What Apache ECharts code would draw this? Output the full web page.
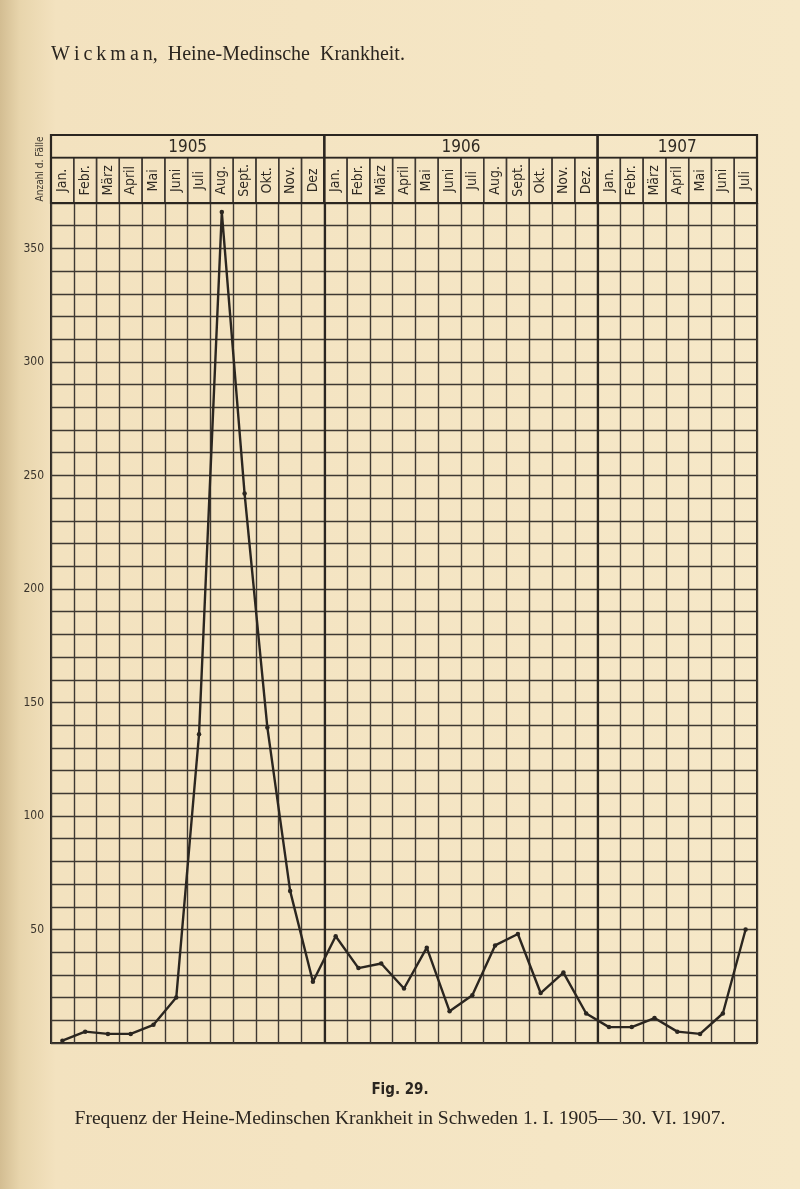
<!DOCTYPE html>
<html>
<head>
<meta charset="utf-8">
<script src="https://cdn.jsdelivr.net/npm/echarts@6/dist/echarts.min.js"></script>
<style>
html,body{margin:0;padding:0;background:#f4e4c2;}
#c{width:800px;height:1189px;}
</style>
</head>
<body>
<div id="c"></div>
<script>
// ---- data ----
var yearLabels = ['1905', '1906', '1907'];
var monthsPerYear = [12, 12, 7];
var monthLabels = [
  'Jan.', 'Febr.', 'März', 'April', 'Mai', 'Juni', 'Juli', 'Aug.', 'Sept.', 'Okt.', 'Nov.', 'Dez',
  'Jan.', 'Febr.', 'März', 'April', 'Mai', 'Juni', 'Juli', 'Aug.', 'Sept.', 'Okt.', 'Nov.', 'Dez.',
  'Jan.', 'Febr.', 'März', 'April', 'Mai', 'Juni', 'Juli'
];
var cases = [
  1, 5, 4, 4, 8, 20, 136, 366, 242, 139, 67, 27,
  47, 33, 35, 24, 42, 14, 21, 43, 48, 22, 31, 13,
  7, 7, 11, 5, 4, 13, 50
];
var yTickLabels = [50, 100, 150, 200, 250, 300, 350];
var yMax = 370;

// ---- derived ----
var nMonths = monthLabels.length;
var yearSpans = [];
var acc = 0;
for (var k = 0; k < yearLabels.length; k++) {
  yearSpans.push([acc, acc + monthsPerYear[k], yearLabels[k]]);
  acc += monthsPerYear[k];
}
var lineData = cases.map(function (v, i) { return [i + 0.5, v]; });
var monthData = monthLabels.map(function (m, i) { return [i, m]; });
var yearBoundaries = yearSpans.slice(1).map(function (s) { return { xAxis: s[0] }; });

var ink = '#2b2620';
var gridInk = '#3f3932';
var condensed = '"DejaVu Sans Condensed", "Liberation Sans Narrow", "DejaVu Sans", sans-serif';
var serif = '"Liberation Serif", "DejaVu Serif", serif';
var ts = '\u2009';

var chart = echarts.init(document.getElementById('c'), null, { renderer: 'canvas' });

var option = {
  animation: false,
  backgroundColor: new echarts.graphic.LinearGradient(0, 0, 1, 0, [
    { offset: 0, color: '#d3bd92' },
    { offset: 0.025, color: '#e8d5ac' },
    { offset: 0.07, color: '#f3e2bf' },
    { offset: 1, color: '#f6e8c8' }
  ]),
  title: [
    {
      text: ['W', 'i', 'c', 'k', 'm', 'a', 'n,'].join(ts) + '  Heine-Medinsche  Krankheit.',
      left: 46, top: 40,
      textStyle: { fontFamily: serif, fontSize: 20, fontWeight: 'normal', color: ink }
    },
    {
      text: 'Fig. 29.',
      left: 'center', top: 1078,
      textStyle: { fontFamily: condensed, fontSize: 15, fontWeight: 'bold', color: ink }
    },
    {
      text: 'Frequenz der Heine-Medinschen Krankheit in Schweden 1. I. 1905\u2014 30. VI. 1907.',
      left: 'center', top: 1104,
      textStyle: { fontFamily: serif, fontSize: 19.5, fontWeight: 'normal', color: ink }
    }
  ],
  graphic: [
    {
      type: 'text', x: 40, y: 169, rotation: Math.PI / 2,
      style: { text: 'Anzahl d. Fälle', fill: '#3a342c', font: '10px ' + condensed, textAlign: 'center', textVerticalAlign: 'middle' }
    }
  ],
  grid: [
    { left: 51, right: 43, top: 203, height: 840, show: true, borderColor: ink, borderWidth: 2, backgroundColor: 'transparent' },
    { left: 51, right: 43, top: 135, height: 68, show: true, borderColor: ink, borderWidth: 2, backgroundColor: 'transparent' }
  ],
  xAxis: [
    {
      gridIndex: 0, type: 'value', min: 0, max: nMonths, interval: 1,
      axisLine: { show: false }, axisTick: { show: false }, axisLabel: { show: false },
      splitLine: { show: true, lineStyle: { color: gridInk, width: 1.4 } }
    },
    {
      gridIndex: 1, type: 'value', min: 0, max: nMonths, interval: 1,
      axisLine: { show: false }, axisTick: { show: false }, axisLabel: { show: false },
      splitLine: { show: false }
    }
  ],
  yAxis: [
    {
      gridIndex: 0, type: 'value', min: 0, max: yMax, interval: 10,
      axisLine: { show: false }, axisTick: { show: false },
      axisLabel: {
        margin: 7, color: '#3a342c', fontSize: 12, fontFamily: condensed,
        formatter: function (v) { return yTickLabels.indexOf(v) >= 0 ? String(v) : ''; }
      },
      splitLine: { show: true, lineStyle: { color: gridInk, width: 1.4 } }
    },
    {
      gridIndex: 1, type: 'value', min: 0, max: 3,
      axisLine: { show: false }, axisTick: { show: false }, axisLabel: { show: false },
      splitLine: { show: false }
    }
  ],
  series: [
    {
      type: 'line', xAxisIndex: 0, yAxisIndex: 0, data: lineData,
      symbol: 'circle', symbolSize: 4.5, showSymbol: true,
      lineStyle: { color: ink, width: 2.4 }, itemStyle: { color: ink },
      z: 10,
      markLine: {
        silent: true, symbol: 'none', label: { show: false },
        lineStyle: { color: ink, width: 2.2, type: 'solid' },
        data: yearBoundaries
      }
    },
    {
      type: 'custom', xAxisIndex: 1, yAxisIndex: 1, data: monthData,
      renderItem: function (params, api) {
        var i = api.value(0);
        var p0 = api.coord([i, 0]);
        var p1 = api.coord([i + 1, 2]);
        var cx = (p0[0] + p1[0]) / 2, cy = (p0[1] + p1[1]) / 2;
        return {
          type: 'group',
          children: [
            { type: 'rect', shape: { x: p0[0], y: p1[1], width: p1[0] - p0[0], height: p0[1] - p1[1] },
              style: { fill: 'none', stroke: gridInk, lineWidth: 1.4 } },
            { type: 'text', x: cx, y: cy, rotation: Math.PI / 2,
              style: { text: monthLabels[i], fill: '#2f2a23', font: '14px ' + condensed, textAlign: 'center', textVerticalAlign: 'middle' } }
          ]
        };
      }
    },
    {
      type: 'custom', xAxisIndex: 1, yAxisIndex: 1, data: yearSpans,
      renderItem: function (params, api) {
        var s = api.value(0), e = api.value(1);
        var label = yearSpans[params.dataIndex][2];
        var a = api.coord([s, 0]);
        var b = api.coord([e, 3]);
        var mid = api.coord([(s + e) / 2, 2.5]);
        var top2 = api.coord([s, 2]);
        var top2e = api.coord([e, 2]);
        return {
          type: 'group',
          children: [
            { type: 'rect', shape: { x: a[0], y: b[1], width: b[0] - a[0], height: a[1] - b[1] },
              style: { fill: 'none', stroke: ink, lineWidth: 2.2 } },
            { type: 'line', shape: { x1: top2[0], y1: top2[1], x2: top2e[0], y2: top2e[1] },
              style: { stroke: ink, lineWidth: 1.8 } },
            { type: 'text', x: mid[0], y: mid[1] + 1,
              style: { text: label, fill: '#2f2a23', font: '17px ' + condensed, textAlign: 'center', textVerticalAlign: 'middle' } }
          ]
        };
      }
    }
  ]
};
chart.setOption(option);
</script>
</body>
</html>
